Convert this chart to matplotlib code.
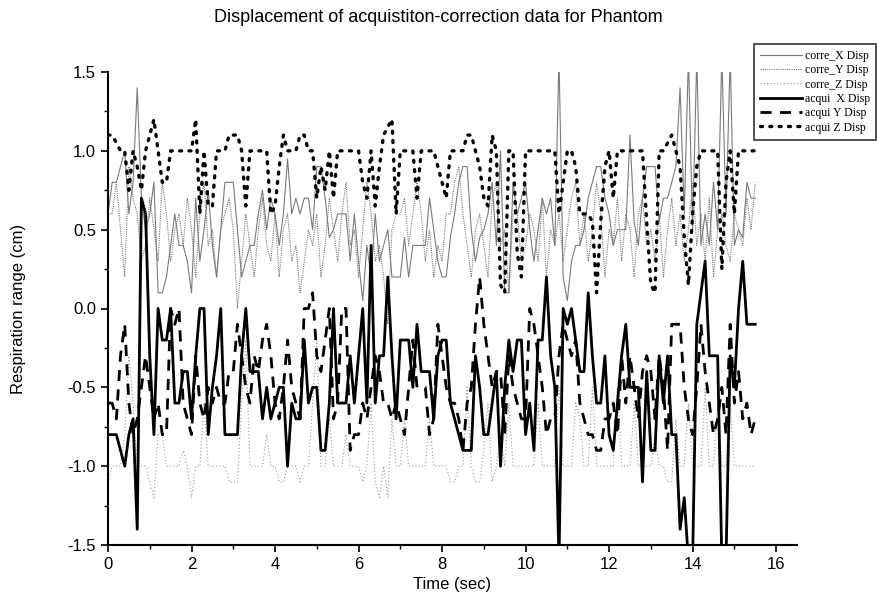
import matplotlib
matplotlib.use("Agg")
import matplotlib.pyplot as plt
import numpy as np

# sampled every 0.1 s, 0 .. 15.5 s
DT = 0.1

corre_x = [0.6, 0.8, 0.8, 0.9, 1.0, 0.6, 0.8, 1.4, 0.7, 0.5, 0.6, 0.8, 0.1, 0.1, 0.2, 0.4,
           0.6, 0.4, 0.4, 0.3, 0.1, 0.7, 0.3, 0.5, 0.75, 0.4, 0.2, 0.5, 0.8, 0.8, 0.8, 0.5,
           0.2, 0.3, 0.4, 0.4, 0.6, 0.75, 0.5, 0.7, 0.6, 0.4, 0.6, 0.95, 0.6, 0.7, 0.6, 0.7,
           0.7, 0.5, 0.9, 0.9, 0.7, 0.45, 0.5, 0.6, 0.6, 0.6, 0.3, 0.6, 0.3, 0.05, 0.4, 0.2,
           0.6, 0.3, 0.4, 0.5, 0.2, 0.2, 0.2, 0.45, 0.2, 0.4, 0.4, 0.4, 0.4, 0.7, 0.5, 0.3,
           0.2, 0.2, 0.45, 0.6, 0.8, 0.9, 0.9, 0.5, 0.3, 0.45, 0.5, 0.6, 0.8, 0.4, 1.0, 0.1,
           0.1, 0.8, 0.6, 0.7, 0.8, 0.5, 0.3, 0.5, 0.7, 0.6, 0.7, 0.4, 1.6, 0.2, 0.05, 0.3,
           0.4, 0.4, 0.5, 0.7, 0.8, 0.9, 0.9, 0.7, 0.6, 0.4, 0.5, 0.5, 0.5, 1.1, 0.55, 0.4,
           0.7, 0.9, 0.9, 0.9, 0.55, 0.7, 0.7, 0.8, 0.9, 1.4, 0.6, 1.6, 0.5, 1.6, 0.4, 0.6,
           0.4, 0.8, 0.5, 1.6, 0.6, 1.6, 0.4, 0.5, 0.45, 0.8, 0.7, 0.7]

corre_y = [0.6, 0.6, 0.8, 0.5, 0.2, 0.9, 0.7, 0.6, 0.3, 0.4, 0.7, 0.5, 0.3, 0.8, 0.6, 0.3,
           0.5, 0.6, 0.4, 0.7, 0.5, 0.2, 0.6, 0.8, 0.4, 0.5, 0.2, 0.5, 0.6, 0.7, 0.5, 0.0,
           0.3, 0.6, 0.4, 0.2, 0.5, 0.7, 0.4, 0.3, 0.6, 0.2, 0.5, 0.6, 0.3, 0.4, 0.1, 0.3,
           0.5, 0.4, 0.6, 0.2, 0.4, 0.7, 0.5, 0.3, 0.6, 0.8, 0.4, 0.5, 0.2, 0.5, 0.8, 0.6,
           0.3, 0.4, 0.2, -0.1, 0.5, 0.6, 0.6, 0.7, 0.4, 0.6, 0.8, 0.6, 0.3, 0.5, 0.2, 0.4,
           0.3, 0.6, 0.6, 0.8, 0.9, 0.6, 0.4, 0.2, 0.5, 0.6, 0.4, 0.2, 0.7, 0.8, 0.4, 0.5,
           0.1, 0.6, 0.6, 0.3, 0.4, 0.6, 0.5, 0.3, 0.7, 0.2, 0.5, 0.4, 0.6, 0.3, 0.5, 0.7,
           0.8, 0.4, 0.6, 0.3, 0.5, 0.8, 0.6, 0.2, 0.5, 0.4, 0.7, 0.3, 0.6, 0.5, 0.2, 0.6,
           0.7, 0.4, 0.5, 0.3, 0.6, 0.2, 0.5, 0.7, 0.4, 0.6, 0.3, 0.5, 0.8, 0.4, 0.6, 0.3,
           0.7, 0.2, 0.5, 0.6, 0.4, 0.3, 0.6, 0.5, 0.4, 0.7, 0.5, 0.8]

corre_z = [-1.1, -1.0, -1.0, -1.0, -0.8, -0.3, -0.6, -1.0, -1.0, -1.0, -1.1, -1.2, -0.8, -0.8,
           -1.0, -1.0, -1.0, -1.0, -0.9, -1.0, -1.2, -1.0, -1.0, -0.6, -1.0, -1.0, -1.0, -1.0,
           -1.0, -1.1, -1.1, -1.1, -0.6, -0.2, -1.0, -1.0, -1.0, -1.0, -0.8, -1.0, -1.0, -1.1,
           -1.1, -1.0, -1.0, -1.0, -1.1, -1.0, -1.0, -0.6, -0.2, -1.0, -1.0, -0.7, -1.0, -1.0,
           -1.0, -0.8, -1.0, -1.0, -1.0, -1.1, -1.0, -0.6, -1.1, -1.2, -1.0, -1.2, -0.7, -1.0,
           -1.0, -0.7, -1.0, -1.0, -1.0, -1.0, -1.0, -0.7, -1.0, -1.0, -1.0, -1.0, -1.1, -1.1,
           -1.0, -1.0, -0.5, -1.0, -1.1, -1.1, -0.9, -0.6, -1.1, -1.0, -0.8, -1.0, -0.6, -1.0,
           -1.0, -1.0, -1.0, -1.0, -1.0, -0.6, -1.0, -1.0, -1.0, -1.0, -0.5, -1.0, -1.0, -1.0,
           -0.6, -0.7, -1.0, -1.0, -0.5, -1.0, -1.0, -1.0, -1.0, -1.0, -0.5, -1.0, -1.0, -1.0,
           -0.6, -1.0, -1.0, -1.0, -1.0, -0.8, -1.0, -1.0, -1.1, -1.1, -0.7, -1.0, -1.0, -0.6,
           -1.0, -1.0, -1.0, -0.5, -1.0, -1.0, -0.6, -1.0, -1.0, -0.6, -1.0, -1.0, -1.0, -1.0,
           -1.0, -1.0]

acqui_x = [-0.8, -0.8, -0.8, -0.9, -1.0, -0.8, -0.7, -1.4, 0.7, 0.6, -0.3, -0.8, 0.0, -0.2,
           -0.2, 0.0, -0.6, -0.6, -0.4, -0.4, -0.7, -0.3, 0.0, 0.0, -0.8, -0.5, -0.3, 0.0,
           -0.8, -0.8, -0.8, -0.8, -0.3, 0.0, -0.4, -0.4, -0.4, -0.7, -0.5, -0.7, -0.6, -0.5,
           -0.5, -1.0, -0.6, -0.7, -0.7, -0.2, -0.6, -0.5, -0.5, -0.9, -0.9, -0.6, 0.0, -0.6,
           -0.6, -0.6, -0.3, -0.6, -0.3, 0.0, -0.6, 0.4, -0.6, -0.3, -0.3, 0.2, -0.3, -0.7,
           -0.2, -0.2, -0.2, -0.5, -0.1, -0.4, -0.4, -0.4, -0.7, -0.3, -0.2, -0.2, -0.6, -0.7,
           -0.8, -0.9, -0.9, -0.9, -0.3, -0.5, -0.8, -0.8, -0.6, -0.4, -1.0, -0.5, -0.2, -0.4,
           -0.2, -0.2, -0.8, -0.6, -0.9, -0.2, -0.2, 0.2, -0.3, -0.5, -1.6, 0.0, -0.1, 0.0,
           -0.2, -0.4, -0.4, 0.1, -0.3, -0.6, -0.6, -0.3, -0.8, -0.9, -0.6, -0.3, -0.1, -0.5,
           -0.5, -0.5, -1.1, -0.4, -0.9, -0.9, -0.3, -0.6, -0.3, -0.8, -0.8, -1.4, -1.2, -1.6,
           -1.6, -0.1, 0.1, 0.3, -0.3, -0.3, -0.3, -1.6, -1.6, -0.3, -0.5, 0.0, 0.3, -0.1,
           -0.1, -0.1]

acqui_y = [-0.6, -0.6, -0.7, -0.3, -0.1, -0.6, -0.8, -0.7, -0.5, -0.3, -0.5, -0.7, -0.6, -0.8,
           -0.8, 0.0, -0.1, 0.0, -0.6, -0.7, -0.8, -0.3, -0.6, -0.7, -0.5, -0.6, -0.5, -0.6,
           -0.6, -0.4, -0.4, -0.1, -0.3, -0.5, -0.6, -0.3, -0.4, -0.2, -0.1, -0.3, -0.6, -0.7,
           -0.5, -0.2, -0.5, -0.6, -0.7, 0.0, 0.0, 0.1, -0.3, -0.4, -0.2, 0.0, -0.7, -0.6,
           0.0, 0.0, -0.9, -0.8, -0.8, -0.6, -0.7, -0.5, -0.3, -0.4, -0.6, -0.6, -0.7, -0.6,
           -0.7, -0.8, -0.5, -0.2, -0.5, -0.5, -0.5, -0.8, -0.7, -0.1, -0.3, -0.5, -0.6, -0.6,
           -0.7, -0.9, -0.6, -0.5, -0.1, 0.2, -0.1, -0.3, -0.5, -0.4, -0.4, -0.8, -0.3, -0.5,
           -0.6, -0.7, -0.7, 0.0, -0.1, -0.3, -0.5, -0.8, -0.7, -0.7, -0.3, -0.1, -0.2, -0.3,
           -0.2, -0.6, -0.7, -0.8, -0.8, -0.9, -0.9, -0.7, -0.7, -0.6, -0.8, -0.3, -0.6, -0.3,
           -0.5, -0.7, -0.4, -0.3, -0.4, -0.7, -0.3, -0.5, -0.9, -0.1, -0.1, -0.1, -0.5, -0.7,
           -0.8, -0.5, -0.1, -0.4, -0.6, -0.8, -0.7, -0.5, -0.8, -0.1, -0.6, -0.4, -0.7, -0.6,
           -0.8, -0.7]

acqui_z = [1.1, 1.1, 1.05, 1.0, 1.0, 0.75, 1.0, 0.9, 0.75, 1.0, 1.1, 1.2, 1.0, 0.8, 0.8, 1.0,
           1.0, 1.0, 1.0, 1.0, 1.0, 1.2, 0.6, 1.0, 0.65, 0.65, 1.0, 1.0, 1.0, 1.1, 1.1, 1.1,
           1.0, 0.65, 1.0, 1.0, 1.0, 1.0, 1.0, 0.6, 0.65, 0.9, 1.1, 1.0, 1.0, 1.0, 1.1, 1.1,
           1.0, 1.0, 0.7, 0.9, 0.75, 1.0, 0.7, 1.0, 1.0, 1.0, 1.0, 1.0, 1.0, 0.8, 0.7, 1.0,
           0.65, 0.9, 1.1, 1.15, 1.2, 0.6, 1.0, 1.0, 1.0, 1.0, 0.7, 1.0, 1.0, 1.0, 1.0, 0.9,
           0.8, 0.7, 1.0, 1.0, 1.0, 1.0, 1.1, 1.1, 1.0, 0.9, 0.7, 0.65, 1.1, 1.0, 0.15, 0.1,
           1.0, 1.0, 0.35, 0.2, 1.0, 1.0, 1.0, 1.0, 1.0, 1.0, 1.0, 1.0, 0.6, 0.8, 1.0, 1.0,
           0.9, 0.6, 0.6, 0.6, 0.55, 0.1, 0.55, 0.9, 1.0, 0.7, 1.0, 1.0, 1.0, 1.0, 1.0, 1.0,
           1.0, 0.55, 0.15, 0.1, 1.0, 1.0, 1.05, 1.1, 1.0, 0.9, 0.45, 0.15, 0.6, 0.9, 1.0, 1.0,
           1.0, 1.0, 1.0, 0.25, 0.8, 1.0, 0.6, 1.0, 1.0, 1.0, 1.0, 1.0]

GREY = "#7a7a7a"

plt.rcParams.update({
    "font.family": ["Liberation Sans", "DejaVu Sans"],
    "font.size": 12,
})

fig = plt.figure(figsize=(8.77, 6.08), dpi=100)
ax = fig.add_axes([108 / 877, 63 / 608, 689 / 877, 473 / 608])


def tgrid(vals):
    return np.arange(len(vals)) * DT


ax.plot(tgrid(corre_x), corre_x, color=GREY, lw=0.8, label="corre_X Disp")
ax.plot(tgrid(corre_y), corre_y, color=GREY, lw=0.8, ls=(0, (1, 1)), label="corre_Y Disp")
ax.plot(tgrid(corre_z), corre_z, color="#9a9a9a", lw=0.8, ls=(0, (1, 2)), label="corre_Z Disp")
ax.plot(tgrid(acqui_x), acqui_x, color="black", lw=2.0, label="acqui  X Disp")
ax.plot(tgrid(acqui_y), acqui_y, color="black", lw=2.0, ls=(0, (4, 3)), label="acqui Y Disp")
ax.plot(tgrid(acqui_z), acqui_z, color="black", lw=2.4, ls=(0, (0.6, 2.2)),
        dash_capstyle="round", label="acqui Z Disp")

ax.set_xlim(0, 16.5)
ax.set_ylim(-1.5, 1.5)
ax.set_xticks(np.arange(0, 17, 2))
ax.set_xticks(np.arange(1, 17, 2), minor=True)
ax.set_yticks(np.arange(-1.5, 1.51, 0.5))
ax.set_yticks(np.arange(-1.25, 1.5, 0.5), minor=True)
ax.yaxis.set_major_formatter(matplotlib.ticker.FormatStrFormatter("%.1f"))
ax.tick_params(which="major", direction="out", length=5, width=1.2, labelsize=12)
ax.tick_params(which="minor", direction="out", length=3, width=1.0)
for s in ("top", "right"):
    ax.spines[s].set_visible(False)
for s in ("left", "bottom"):
    ax.spines[s].set_linewidth(1.5)

ax.set_xlabel("Time (sec)", fontsize=12, labelpad=4)
ax.set_ylabel("Respiration range (cm)", fontsize=12, labelpad=30)
fig.suptitle("Displacement of acquistiton-correction data for Phantom", fontsize=13,
             x=0.5, y=0.985)

leg = fig.legend(loc="upper left", bbox_to_anchor=(748 / 877, 1 - 38 / 608),
                 prop={"family": "Liberation Serif", "size": 8.5}, handlelength=3.6,
                 labelspacing=0.2, borderpad=0.5, handletextpad=0.2,
                 fancybox=False, frameon=True)
leg.get_frame().set_edgecolor("black")
leg.get_frame().set_linewidth(1.2)

fig.savefig("out.png", dpi=100)
